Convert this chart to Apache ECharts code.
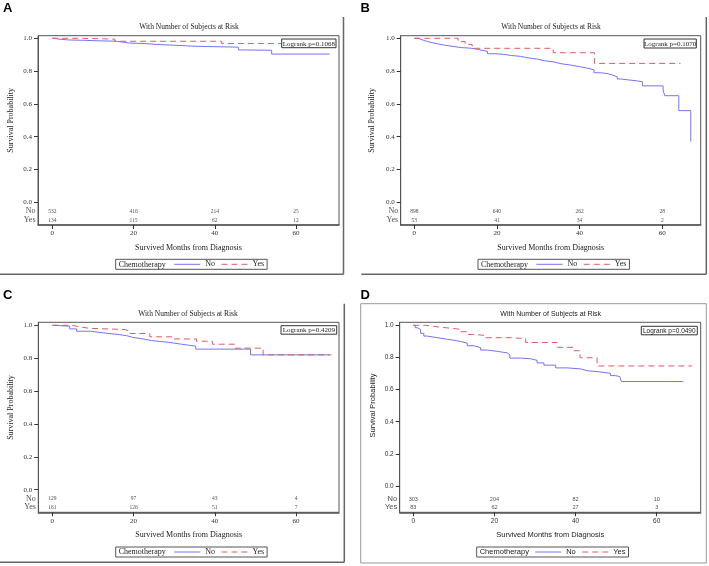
<!DOCTYPE html>
<html><head><meta charset="utf-8">
<script src="https://cdn.jsdelivr.net/npm/echarts@6/dist/echarts.min.js"></script>
<style>html,body{margin:0;padding:0;background:#fff}#c{width:709px;height:566px}</style>
</head><body><div id="c"></div>
<script>
// ---------------- data ----------------
const panelLetters = ['A', 'B', 'C', 'D'];
const groups = ['No', 'Yes'];
const xTickValues = [0, 20, 40, 60];
const yTickValues = [0, 0.2, 0.4, 0.6, 0.8, 1.0];
const pValues = ['0.1068', '0.1070', '0.4209', '0.0490'];

// Kaplan-Meier curves: [month, survival probability]
const kmA_No = [[0,1],[0.7,0.995],[1.5,0.99],[4,0.988],[7.6,0.985],[11,0.982],[15.8,0.971],[19,0.968],[22.8,0.962],[26,0.958],[29.8,0.954],[33,0.951],[35.9,0.946],[45.8,0.929],[48,0.927],[54,0.904],[68.3,0.904]];
const kmA_Yes = [[0,1],[7.6,0.995],[15.4,0.982],[41.7,0.968],[69.6,0.968]];
const kmB_No = [[0,1],[1,0.99],[2,0.982],[3,0.975],[4,0.967],[5.6,0.957],[7.5,0.95],[9.6,0.943],[11.5,0.94],[13.6,0.932],[15.5,0.92],[17.7,0.906],[19.5,0.902],[21.7,0.895],[23.5,0.89],[25.7,0.881],[27.5,0.873],[29.8,0.863],[31.5,0.856],[33.8,0.845],[35.5,0.837],[37.8,0.827],[40,0.818],[41.9,0.808],[43.5,0.79],[45,0.785],[46.7,0.776],[48,0.765],[49.1,0.752],[49.9,0.74],[54,0.735],[55.2,0.71],[60.2,0.684],[60.6,0.65],[64,0.559],[66.9,0.37]];
const kmB_Yes = [[0,1],[10.6,0.98],[12.3,0.963],[14,0.939],[33.6,0.912],[43.6,0.847],[64.4,0.847]];
const kmC_No = [[0,1],[0.7,0.994],[4.3,0.978],[6,0.964],[9.4,0.954],[12.5,0.943],[16.6,0.937],[18.3,0.927],[19.7,0.917],[22.4,0.907],[24.4,0.897],[28.5,0.885],[31.8,0.873],[35.3,0.855],[48.8,0.82],[68.3,0.82]];
const kmC_Yes = [[0,1],[4.8,0.994],[6.1,0.982],[8.9,0.974],[17.9,0.964],[19.1,0.95],[24,0.93],[29.8,0.917],[35.5,0.903],[39.4,0.885],[44.9,0.861],[51.9,0.82],[68.7,0.82]];
const kmD_No = [[0,1],[0.5,0.985],[1,0.974],[1.8,0.95],[2.6,0.933],[3.4,0.923],[5.9,0.913],[8.4,0.907],[10,0.899],[11.7,0.889],[13.3,0.873],[14.9,0.861],[16.6,0.846],[18.2,0.838],[20.7,0.828],[23.2,0.816],[23.8,0.796],[26.4,0.792],[28.9,0.782],[30.5,0.766],[32.2,0.752],[35.1,0.735],[37.9,0.729],[41.2,0.717],[42.9,0.711],[45.7,0.701],[48.6,0.687],[49.8,0.681],[50.9,0.671],[51.3,0.65],[66.5,0.65]];
const kmD_Yes = [[0,1],[3,0.988],[6.7,0.98],[10,0.974],[11.7,0.96],[13.3,0.943],[14.9,0.937],[17.8,0.923],[24,0.917],[27.7,0.893],[35.5,0.863],[39.6,0.842],[41.1,0.798],[45.3,0.747],[68.7,0.747]];

// Number of subjects at risk at months 0, 20, 40, 60
const riskA_No = [532, 416, 214, 25];
const riskA_Yes = [134, 115, 62, 12];
const riskB_No = [898, 640, 262, 28];
const riskB_Yes = [53, 41, 34, 2];
const riskC_No = [129, 97, 43, 4];
const riskC_Yes = [161, 126, 51, 7];
const riskD_No = [303, 204, 82, 10];
const riskD_Yes = [83, 62, 27, 3];

const curves = [[kmA_No, kmA_Yes], [kmB_No, kmB_Yes], [kmC_No, kmC_Yes], [kmD_No, kmD_Yes]];
const risks = [[riskA_No, riskA_Yes], [riskB_No, riskB_Yes], [riskC_No, riskC_Yes], [riskD_No, riskD_Yes]];

// ---------------- layout / style ----------------
const SERIF = '"Liberation Serif","Times New Roman",serif';
const SANS = '"Liberation Sans",Arial,sans-serif';
const BLUE = '#7474f0', RED = '#e05a64';
const lineTypes = ['solid', [6, 4]];
const colors = [BLUE, RED];

const L = [
  {gx:38, gy:35.7, gw:301, gh:189.3, xr:[-3.52,70.58], yr:[-0.1384,1.0159], rows:[-0.055,-0.11], font:SERIF,
   letter:[3,8.5], title:[189,27], ytitle:[11,120.3], box:[281.7,39,54.3,8.7], leg:[115.7,259.3],
   border:{type:'rb', x0:0, x1:343.5, y0:17, y1:274.3}},
  {gx:400.7, gy:35.7, gw:300, gh:189.3, xr:[-3.29,69.3], yr:[-0.1384,1.0159], rows:[-0.055,-0.11], font:SERIF,
   letter:[360.5,8.5], title:[551,27], ytitle:[372,120.3], box:[644,39,52.3,9], leg:[478,259.3],
   border:{type:'rb', x0:361.3, x1:706.3, y0:17, y1:274.3}},
  {gx:38.3, gy:322.3, gw:300.7, gh:190, xr:[-3.45,70.58], yr:[-0.1375,1.0182], rows:[-0.0566,-0.107], font:SERIF,
   letter:[3,295], title:[188,314], ytitle:[11,407.5], box:[281,325.7,55.7,8.5], leg:[115.7,547],
   border:{type:'rb', x0:0, x1:344.3, y0:303.7, y1:562.3}},
  {gx:399.7, gy:322.3, gw:301, gh:190, xr:[-3.35,70.84], yr:[-0.1637,1.0187], rows:[-0.0809,-0.1325], font:SANS,
   letter:[360.5,295], title:[550.7,314], ytitle:[373,405.5], box:[641.3,326.3,56,8.5], leg:[476.7,547],
   border:{type:'full', x0:360.7, x1:706.3, y0:303.7, y1:563}}
];

const grid = [], xAxis = [], yAxis = [], series = [], legend = [], graphic = [];

L.forEach((p, i) => {
  const tickFs = p.font === SANS ? 6.5 : 7;
  grid.push({left:p.gx, top:p.gy, width:p.gw, height:p.gh, show:true, borderColor:'#555', borderWidth:1, containLabel:false});
  xAxis.push({
    type:'value', gridIndex:i, min:p.xr[0], max:p.xr[1],
    name:'Survived Months from Diagnosis', nameLocation:'middle', nameGap:19,
    nameTextStyle:{fontFamily:p.font, fontSize:p.font === SANS ? 7.5 : 8, color:'#222'},
    axisLine:{show:true, onZero:false, lineStyle:{color:'#555', width:1.5}},
    axisTick:{show:true, length:4, customValues:xTickValues, lineStyle:{color:'#333'}},
    axisLabel:{show:true, margin:5, customValues:xTickValues, fontFamily:p.font, fontSize:tickFs, color:'#333'},
    splitLine:{show:false}
  });
  yAxis.push({
    type:'value', gridIndex:i, min:p.yr[0], max:p.yr[1],
    axisLine:{show:true, onZero:false, lineStyle:{color:'#555', width:1}},
    axisTick:{show:true, length:4, customValues:yTickValues, lineStyle:{color:'#333'}},
    axisLabel:{show:true, margin:6, customValues:yTickValues, formatter:v => v.toFixed(1), fontFamily:p.font, fontSize:tickFs, color:'#333'},
    splitLine:{show:false}
  });
  // KM curves
  groups.forEach((g, k) => {
    series.push({
      type:'line', name:g, xAxisIndex:i, yAxisIndex:i, step:'end', data:curves[i][k],
      symbol:'none', showSymbol:false, animation:false, z:3,
      lineStyle:{color:colors[k], width:1, type:lineTypes[k]}, itemStyle:{color:colors[k]}
    });
  });
  // at-risk numbers
  groups.forEach((g, k) => {
    series.push({
      type:'scatter', name:'risk' + i + g, xAxisIndex:i, yAxisIndex:i, symbol:'circle', symbolSize:1,
      itemStyle:{color:'rgba(0,0,0,0)'}, animation:false, silent:true,
      data: xTickValues.map((x, j) => [x, p.rows[k], risks[i][k][j]]),
      label:{show:true, position:'inside', formatter:q => String(q.value[2]), fontFamily:p.font, fontSize:5.5, color:'#222'}
    });
    series.push({
      type:'scatter', name:'row' + i + g, xAxisIndex:i, yAxisIndex:i, symbol:'circle', symbolSize:1,
      itemStyle:{color:'rgba(0,0,0,0)'}, animation:false, silent:true, clip:false,
      data:[[p.xr[0], p.rows[k]]],
      label:{show:true, position:'left', distance:2, formatter:g, fontFamily:p.font, fontSize:p.font === SANS ? 7.5 : 8, color:'#222'}
    });
  });
  legend.push({
    left:p.leg[0], top:p.leg[1], orient:'horizontal', padding:[1,3,1,58],
    borderColor:'#555', borderWidth:1, itemWidth:26, itemHeight:8, itemGap:6,
    data:groups, selectedMode:false,
    itemStyle:{opacity:0, borderWidth:0},
    lineStyle:{width:1},
    textStyle:{fontFamily:p.font, fontSize:p.font === SANS ? 7.5 : 8, color:'#222', lineHeight:8}
  });
  const fs = p.font === SANS ? 7 : 7.5;
  graphic.push({type:'text', x:p.letter[0], y:p.letter[1], style:{text:panelLetters[i], font:'bold 13px "Liberation Sans"', fill:'#000', align:'left', verticalAlign:'middle'}});
  graphic.push({type:'text', x:p.title[0], y:p.title[1], style:{text:'With Number of Subjects at Risk', font:fs + 'px ' + p.font, fill:'#222', align:'center', verticalAlign:'middle'}});
  graphic.push({type:'text', x:p.ytitle[0], y:p.ytitle[1], rotation:Math.PI / 2, style:{text:'Survival Probability', font:(p.font === SANS ? 7.5 : 8) + 'px ' + p.font, fill:'#222', align:'center', verticalAlign:'middle'}});
  graphic.push({type:'rect', z:20, shape:{x:p.box[0], y:p.box[1], width:p.box[2], height:p.box[3]}, style:{fill:'#fff', stroke:'#333', lineWidth:1}});
  graphic.push({type:'text', z:21, x:p.box[0] + p.box[2] / 2, y:p.box[1] + p.box[3] / 2 + 0.5, style:{text:'Logrank p=' + pValues[i], font:(p.font === SANS ? 6.5 : 7) + 'px ' + p.font, fill:'#222', align:'center', verticalAlign:'middle'}});
  graphic.push({type:'text', z:21, x:p.leg[0] + 3, y:p.leg[1] + 5.2, style:{text:'Chemotherapy', font:(p.font === SANS ? 7.5 : 8) + 'px ' + p.font, fill:'#222', align:'left', verticalAlign:'middle'}});
  const b = p.border;
  if (b.type === 'rb') {
    graphic.push({type:'line', shape:{x1:b.x1, y1:b.y0, x2:b.x1, y2:b.y1}, style:{stroke:'#666', lineWidth:1.5}});
    graphic.push({type:'line', shape:{x1:b.x0, y1:b.y1, x2:b.x1, y2:b.y1}, style:{stroke:'#666', lineWidth:1.5}});
  } else {
    graphic.push({type:'rect', shape:{x:b.x0, y:b.y0, width:b.x1 - b.x0, height:b.y1 - b.y0}, style:{fill:'none', stroke:'#999', lineWidth:1}});
  }
});

const chart = echarts.init(document.getElementById('c'), null, {width:709, height:566});
chart.setOption({animation:false, backgroundColor:'#fff', grid, xAxis, yAxis, series, legend, graphic});
</script>
</body></html>
